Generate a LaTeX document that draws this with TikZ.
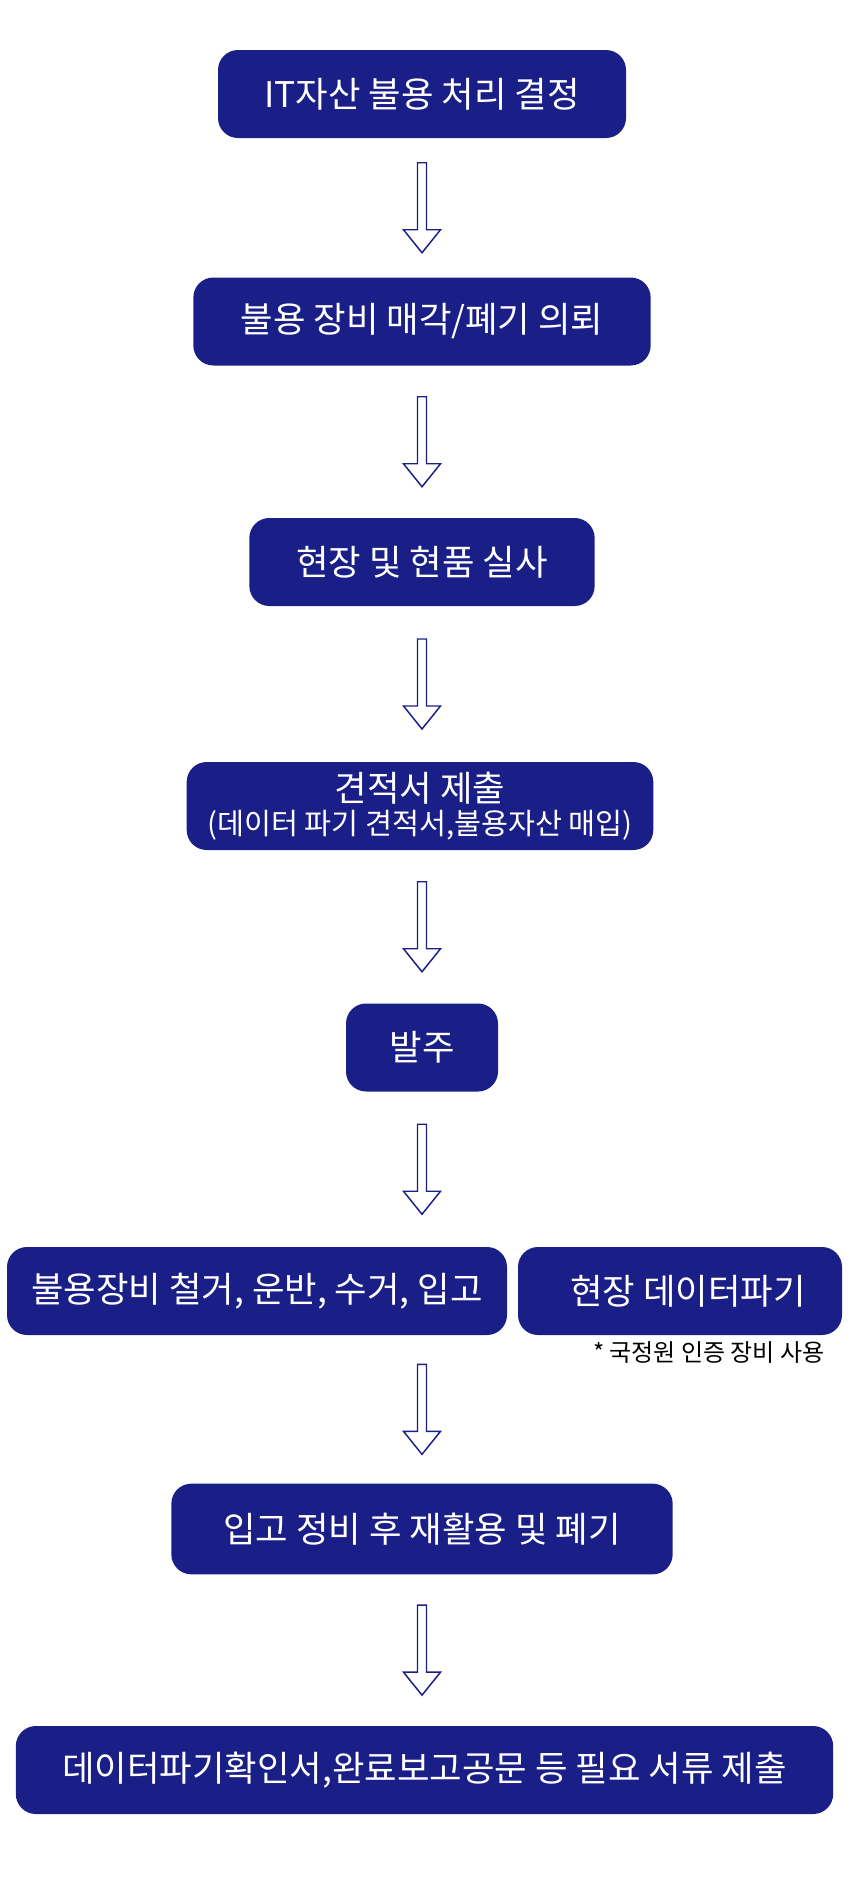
\documentclass[tikz,border=0pt]{standalone}
\usepackage{fontspec}
\setmainfont{Noto Sans CJK KR}
\usetikzlibrary{calc}
\definecolor{navy}{RGB}{26,31,135}
% hollow block arrow, centred in the gap between two anchors
\newcommand{\hollowarrow}[2]{%
  \coordinate (mid) at ($(#1)!0.5!(#2)$);
  \draw[flowarrow] ($(mid)+(-4.5,-45)$) -- ($(mid)+(-4.5,22)$)
    -- ($(mid)+(-18.5,22)$) -- ($(mid)+(0,45)$) -- ($(mid)+(18.5,22)$)
    -- ($(mid)+(4.5,22)$) -- ($(mid)+(4.5,-45)$) -- cycle;}

\begin{document}
\begin{tikzpicture}[x=0.75pt,y=-0.75pt,
  every node/.style={font=\fontsize{26.5}{31}\selectfont,align=center},
  stepbox/.style={fill=navy,text=white,rounded corners=15pt,minimum height=66pt},
  flowarrow/.style={draw=navy,fill=white,line width=1.1pt},
  note/.style={font=\fontsize{18}{21}\selectfont}]
\useasboundingbox (0,0) rectangle (850,1885);
\node[stepbox,minimum width=306pt] (decide) at (422,94) {IT자산 불용 처리 결정};
\node[stepbox,minimum width=343pt] (request) at (422,321.5) {불용 장비 매각/폐기 의뢰};
\node[stepbox,minimum width=259pt] (survey) at (422,562) {현장 및 현품 실사};
\node[stepbox,minimum width=350pt,inner sep=2pt] (quote) at (420,806) {견적서 제출\\[-6pt]{\fontsize{22}{26}\selectfont(데이터 파기 견적서,불용자산 매입)}};
\node[stepbox,minimum width=114pt] (order) at (422,1047.5) {발주};
\node[stepbox,minimum width=375pt] (removal) at (257,1291) {불용장비 철거, 운반, 수거, 입고};
\node[stepbox,minimum width=243pt] (wipe) at (680,1291) {\hspace*{12pt}현장 데이터파기};
\node[note,anchor=north east] (cert) at ($(wipe.south east)+(-13,2)$) {* 국정원 인증 장비 사용};
\node[stepbox,minimum width=376pt,minimum height=68pt] (reuse) at (422,1529) {입고 정비 후 재활용 및 폐기};
\node[stepbox,minimum width=613pt] (report) at (424.5,1770) {데이터파기확인서,완료보고공문 등 필요 서류 제출};
\coordinate (rowtop) at (removal.north -| order.south);
\coordinate (rowbot) at (removal.south -| reuse.north);
\hollowarrow{decide.south}{request.north}
\hollowarrow{request.south}{survey.north}
\hollowarrow{survey.south}{quote.north -| survey.north}
\hollowarrow{quote.south -| order.north}{order.north}
\hollowarrow{order.south}{rowtop}
\hollowarrow{rowbot}{reuse.north}
\hollowarrow{reuse.south}{report.north -| reuse.south}
\end{tikzpicture}
\end{document}
